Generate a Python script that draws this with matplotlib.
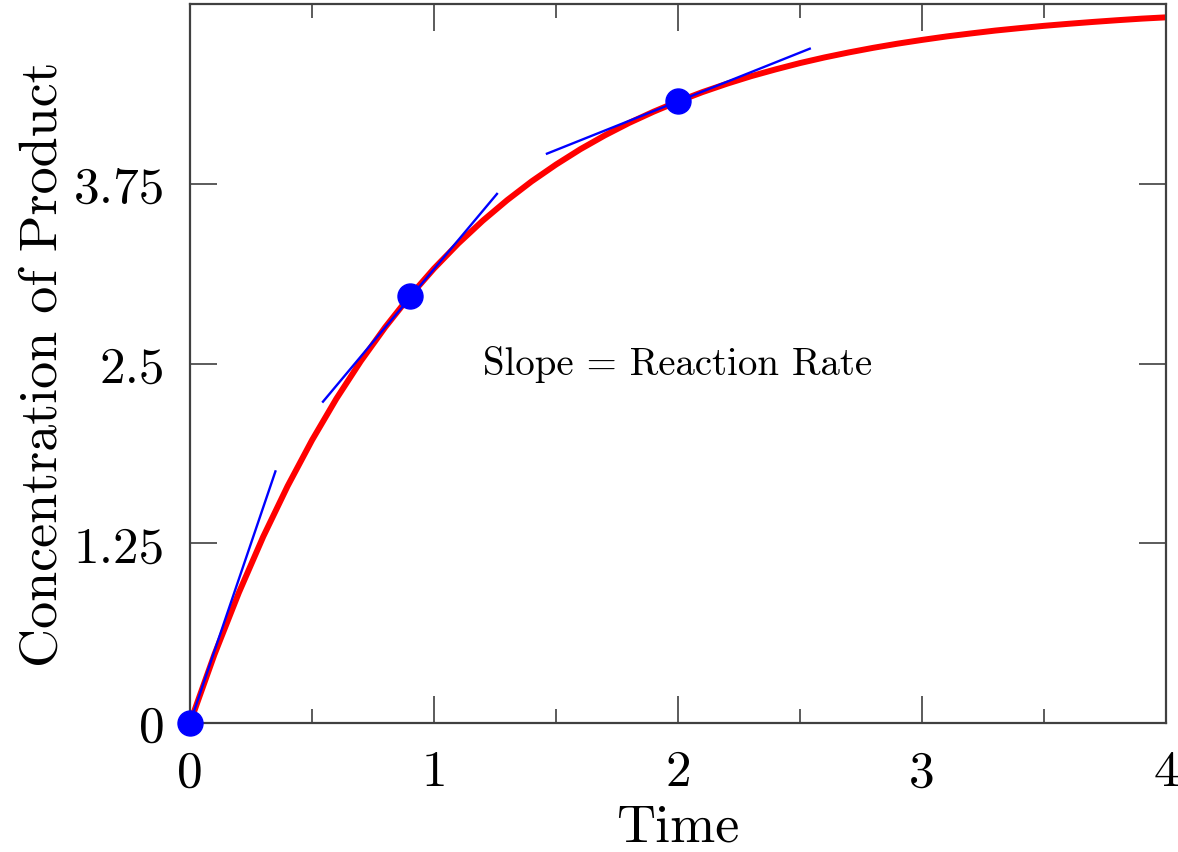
import matplotlib
matplotlib.use("Agg")
import matplotlib.pyplot as plt

plt.rcParams['font.family'] = 'serif'
plt.rcParams['font.serif'] = ['cmr10']
plt.rcParams['axes.unicode_minus'] = False
plt.rcParams['mathtext.fontset'] = 'cm'

# Concentration curve
time = [0.0, 0.1, 0.2, 0.3, 0.4, 0.5, 0.6, 0.7, 0.8, 0.9, 1.0,
        1.1, 1.2, 1.3, 1.4, 1.5, 1.6, 1.7, 1.8, 1.9, 2.0,
        2.1, 2.2, 2.3, 2.4, 2.5, 2.6, 2.7, 2.8, 2.9, 3.0,
        3.1, 3.2, 3.3, 3.4, 3.5, 3.6, 3.7, 3.8, 3.9, 4.0]
concentration = [0.000, 0.476, 0.906, 1.296, 1.648, 1.967, 2.256, 2.517, 2.753, 2.967, 3.161,
                 3.336, 3.494, 3.637, 3.767, 3.884, 3.991, 4.087, 4.174, 4.252, 4.323,
                 4.388, 4.446, 4.499, 4.546, 4.590, 4.629, 4.664, 4.696, 4.725, 4.751,
                 4.775, 4.796, 4.816, 4.833, 4.849, 4.863, 4.876, 4.888, 4.899, 4.908]

# Points where the tangent is drawn
point_t = [0.0, 0.9, 2.0]
point_c = [0.0, 2.967, 4.323]

# Tangent segments (endpoints)
tangent_x = [[0.0, 0.35], [0.545, 1.258], [1.463, 2.54]]
tangent_y = [[0.0, 1.75], [2.235, 3.68], [3.96, 4.69]]

x_ticks = [0, 1, 2, 3, 4]
x_minor = [0.5, 1.5, 2.5, 3.5]
y_ticks = [0, 1.25, 2.5, 3.75]
y_ticklabels = ['0', '1.25', '2.5', '3.75']

fig = plt.figure(figsize=(11.78, 8.53), dpi=100)
ax = fig.add_axes([0.1613, 0.1512, 0.8285, 0.8428])

ax.plot(time, concentration, color='red', lw=4.3, solid_capstyle='round', zorder=2)
for tx, ty in zip(tangent_x, tangent_y):
    ax.plot(tx, ty, color='blue', lw=1.7, zorder=3)
ax.plot(point_t, point_c, 'o', color='blue', ms=18, clip_on=False, zorder=4)

ax.text(2.0, 2.5, 'Slope = Reaction Rate', fontsize=28, ha='center', va='center')

ax.set_xlim(0, 4)
ax.set_ylim(0, 5)
ax.set_xticks(x_ticks)
ax.set_xticklabels([str(v) for v in x_ticks])
ax.set_xticks(x_minor, minor=True)
ax.set_yticks(y_ticks)
ax.set_yticklabels(y_ticklabels)

spine_col = '#404040'
for s in ax.spines.values():
    s.set_color(spine_col)
    s.set_linewidth(1.6)
ax.tick_params(which='major', direction='in', length=19.5, width=1.2, color=spine_col,
               top=True, right=True, labelsize=37)
ax.tick_params(which='minor', direction='in', length=10, width=1.2, color=spine_col,
               top=True, right=True)
ax.tick_params(axis='x', which='major', pad=19)
ax.tick_params(axis='y', which='major', pad=18)

ax.set_xlabel('Time', fontsize=39, labelpad=6)
ax.set_ylabel('Concentration of Product', fontsize=39, labelpad=5)

fig.savefig('out.png', dpi=100)
